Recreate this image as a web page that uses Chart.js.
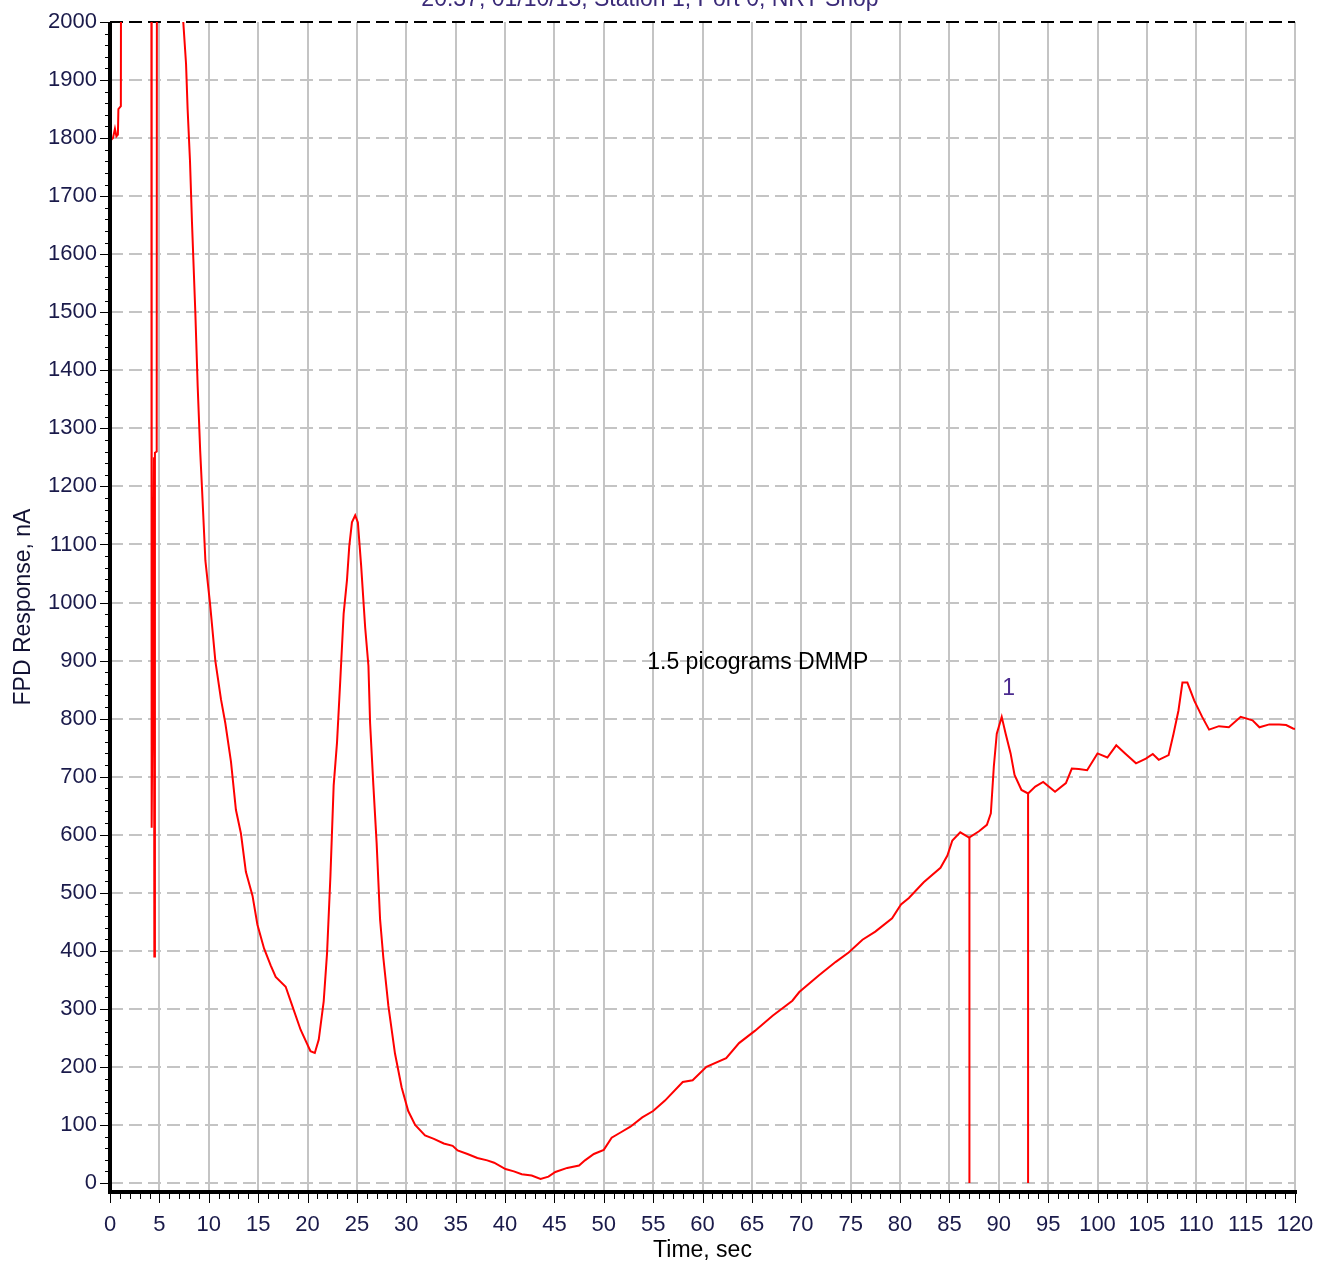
<!DOCTYPE html>
<html>
<head>
<meta charset="utf-8">
<title>FPD Response, nA</title>
<script src="https://cdn.jsdelivr.net/npm/chart.js@4.4.1/dist/chart.umd.min.js"></script>
<style>
  html, body { margin: 0; padding: 0; background: #fff; }
  canvas { display: block; }
</style>
</head>
<body>
<canvas id="chart" width="1317" height="1264"></canvas>
<script>
// trace; 2600 = off scale (clipped at 2000)
const traceTime = [
  0, 0.3, 0.5, 0.65, 0.8, 0.85, 1.1, 1.15,
  4.18, 4.22, 4.45, 4.49, 4.55, 4.73, 4.76,
  7.42, 7.7, 7.86, 8.1, 8.3, 8.64, 8.88, 9.13, 9.33, 9.66, 10.13, 10.67, 11.24, 11.68,
  12.25, 12.75, 13.26, 13.76, 14.43, 14.93, 15.6, 16.27, 16.78, 17.79, 18.46, 19.3,
  20.3, 20.74, 21.14, 21.64, 21.98, 22.32, 22.65, 22.99, 23.32, 23.66, 24.0, 24.23,
  24.5, 24.83, 25.1, 25.43, 25.84, 26.17, 26.34, 26.67, 27.0, 27.35, 27.68, 28.19,
  28.86, 29.53, 30.2, 30.9, 31.9, 32.8, 33.8, 34.7, 35.2, 36.2, 37.2, 38.2, 38.9,
  40.05, 40.9, 41.7, 42.7, 43.6, 44.4, 45.1, 46.3, 47.5, 48.1, 49.0, 50.0, 50.8,
  51.7, 52.7, 53.9, 55.0, 56.2, 58.0, 59.0, 60.4, 62.4, 63.7, 65.3, 67.1, 69.1,
  69.8, 71.8, 73.5, 74.8, 76.2, 77.5, 79.2, 80.1, 80.9, 82.4, 84.1, 84.8, 85.3,
  86.1, 87.0, 88.0, 88.8, 89.2, 89.5, 89.8, 90.3, 90.7, 91.2, 91.6, 92.3, 92.97,
  93.7, 94.5, 95.7, 96.8, 97.4, 98.1, 98.95, 100.0, 101.0, 101.9, 102.8, 103.9,
  104.9, 105.6, 106.2, 107.2, 107.7, 108.2, 108.6, 109.1, 109.8, 110.6, 111.3,
  112.3, 113.3, 114.5, 115.7, 116.4, 117.4, 118.4, 119.1, 119.8, 120
];
const traceResponse = [
  1795, 1800, 1816, 1803, 1806, 1850, 1855, 2600,
  2600, 612, 1250, 390, 1258, 1260, 2600,
  2000, 1928, 1850, 1761, 1656, 1500, 1372, 1262, 1192, 1072, 998, 899, 833, 792,
  726, 643, 602, 536, 495, 445, 404, 375, 355, 338, 305, 264,
  227, 224, 247, 313, 396, 528, 685, 759, 866, 981, 1039, 1097,
  1138, 1150, 1138, 1064, 957, 891, 792, 685, 586, 454, 388, 305,
  223, 165, 124, 100, 82, 76, 68, 64, 56, 50, 43, 39, 35,
  24, 20, 15, 13, 7, 11, 19, 26, 30, 39, 50, 57, 78,
  87, 97, 113, 124, 142, 174, 177, 200, 215, 241, 262, 288, 314,
  329, 358, 381, 397, 419, 433, 456, 480, 491, 518, 543, 564, 590,
  604, 595, 606, 617, 637, 717, 774, 803, 774, 740, 703, 677, 671,
  683, 691, 674, 689, 714, 713, 711, 740, 733, 754, 740, 723,
  731, 739, 729, 737, 774, 814, 862, 862, 831, 803, 781,
  787, 785, 803, 797, 785, 790, 790, 789, 783, 782
];

// peak baseline drop lines
const markerTime = [87.03, 92.97];
const markerTop = [595, 671];

const xTicks = [0, 5, 10, 15, 20, 25, 30, 35, 40, 45, 50, 55, 60, 65, 70, 75, 80, 85, 90, 95, 100, 105, 110, 115, 120];
const yTicks = [0, 100, 200, 300, 400, 500, 600, 700, 800, 900, 1000, 1100, 1200, 1300, 1400, 1500, 1600, 1700, 1800, 1900, 2000];

const chartTitle = "20:37, 01/10/13, Station 1, Port 0, NRT Shop";
const noteText = "1.5 picograms DMMP";
const noteAt = [65.6, 897];
const peakLabel = "1";
const peakLabelAt = [91.0, 851];

const FONT = "'Liberation Sans', Arial, sans-serif";

function noOverflow(s) {
  s.paddingTop = 0;
  s.paddingBottom = 0;
  s.paddingLeft = 0;
  s.paddingRight = 0;
}

const decor = {
  id: "decor",
  afterDatasetsDraw(chart) {
    const { ctx, chartArea: area, scales: { x, y } } = chart;
    ctx.save();

    // minor / major tick marks
    ctx.strokeStyle = "#000";
    ctx.lineWidth = 1;
    ctx.beginPath();
    for (let s = x.min; s <= x.max; s++) {
      const px = Math.round(x.getPixelForValue(s)) + 0.5;
      ctx.moveTo(px, area.bottom);
      ctx.lineTo(px, area.bottom + (s % 5 === 0 ? 11 : 7));
    }
    for (let v = 0; v <= y.max; v += 20) {
      const py = Math.round(y.getPixelForValue(v)) + 0.5;
      ctx.moveTo(area.left, py);
      ctx.lineTo(area.left - (v % 100 === 0 ? 10 : 5), py);
    }
    ctx.stroke();

    // thick axis lines
    ctx.lineWidth = 4;
    ctx.beginPath();
    ctx.moveTo(area.left, area.top);
    ctx.lineTo(area.left, area.bottom + 2);
    ctx.moveTo(area.left - 2, area.bottom);
    ctx.lineTo(area.right + 2, area.bottom);
    ctx.stroke();

    ctx.font = "23px " + FONT;
    ctx.textBaseline = "middle";
    ctx.textAlign = "center";
    ctx.fillStyle = "#000";
    ctx.fillText(noteText, x.getPixelForValue(noteAt[0]), y.getPixelForValue(noteAt[1]));
    ctx.fillStyle = "#4b2b8f";
    ctx.fillText(peakLabel, x.getPixelForValue(peakLabelAt[0]), y.getPixelForValue(peakLabelAt[1]));

    // title, mostly cut off by the top edge
    ctx.fillStyle = "#3a2a78";
    ctx.textBaseline = "alphabetic";
    ctx.fillText(chartTitle, 650, 6);
    ctx.restore();
  }
};

new Chart(document.getElementById("chart"), {
  type: "line",
  data: {
    datasets: [
      {
        data: traceTime.map((t, i) => ({ x: t, y: traceResponse[i] })),
        borderColor: "#ff0000",
        borderWidth: 2,
        pointRadius: 0,
        tension: 0,
      },
      ...markerTime.map((t, i) => ({
        data: [{ x: t, y: markerTop[i] }, { x: t, y: 0 }],
        borderColor: "#ff0000",
        borderWidth: 2,
        pointRadius: 0,
      })),
    ],
  },
  options: {
    responsive: false,
    animation: false,
    devicePixelRatio: 1,
    layout: { padding: { top: 22, right: 22, left: 0, bottom: 0 } },
    plugins: { legend: { display: false }, tooltip: { enabled: false } },
    scales: {
      x: {
        type: "linear",
        min: 0,
        max: 120,
        afterFit: (s) => { s.height = 72; noOverflow(s); },
        afterBuildTicks: (s) => { s.ticks = xTicks.map((v) => ({ value: v })); },
        grid: { color: "#c4c4c4", lineWidth: 2, drawTicks: false },
        border: { display: false },
        ticks: {
          padding: 20,
          color: "#1a1a4a",
          font: { family: FONT, size: 22 },
          maxRotation: 0,
          autoSkip: false,
          callback: (v) => String(v),
        },
        title: {
          display: true,
          text: "Time, sec",
          color: "#000",
          font: { family: FONT, size: 23 },
          padding: { top: 0, bottom: 0 },
        },
      },
      y: {
        min: -15.5,
        max: 2000,
        afterFit: (s) => { s.width = 110; noOverflow(s); },
        afterBuildTicks: (s) => { s.ticks = yTicks.map((v) => ({ value: v })); },
        grid: {
          color: (c) => (c.tick && c.tick.value === 2000 ? "#000" : "#c4c4c4"),
          lineWidth: 2,
          drawTicks: false,
        },
        border: { display: false, dash: [13, 6] },
        ticks: {
          padding: 13,
          color: "#1a1a4a",
          font: { family: FONT, size: 22 },
          autoSkip: false,
          callback: (v) => String(v),
        },
        title: {
          display: true,
          text: "FPD Response, nA",
          color: "#111133",
          font: { family: FONT, size: 23 },
          padding: { top: 10, bottom: 0 },
        },
      },
    },
  },
  plugins: [decor],
});
</script>
</body>
</html>
